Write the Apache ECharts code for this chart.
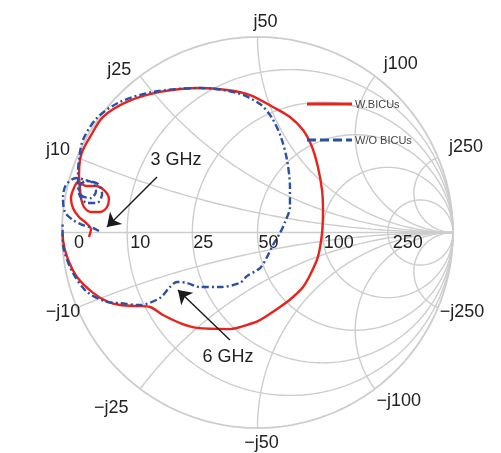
<!DOCTYPE html>
<html><head><meta charset="utf-8">
<script src="https://cdn.jsdelivr.net/npm/echarts@6/dist/echarts.min.js"></script>
<style>html,body{margin:0;padding:0;background:#fff}#c{width:501px;height:453px}</style>
</head><body><div id="c"></div>
<script>
// ---- chart values ----
const Z0 = 50;
const resistanceTicks = [0, 10, 25, 50, 100, 250];          // ohms
const reactanceTicks = [10, 25, 50, 100, 250];              // ohms
const resistanceLabels = ['0', '10', '25', '50', '100', '250'];
const posReactanceLabels = ['j10', 'j25', 'j50', 'j100', 'j250'];
const negReactanceLabels = ['\u2212j10', '\u2212j25', '\u2212j50', '\u2212j100', '\u2212j250'];
const seriesNames = ['W.BICUs', 'W/O BICUs'];

const withBicusRe = [-0.862,-0.852,-0.877,-0.913,-0.944,-0.954,-0.939,-0.918,-0.877,-0.831,-0.785,-0.760,-0.770,-0.806,-0.852,-0.887,-0.903,-0.908,-0.913,-0.908,-0.893,-0.857,-0.790,-0.668,-0.499,-0.294,-0.156,-0.038,0.079,0.166,0.233,0.279,0.309,0.330,0.335,0.330,0.309,0.274,0.233,0.176,0.115,0.013,-0.023,-0.141,-0.309,-0.396,-0.483,-0.550,-0.616,-0.703,-0.765,-0.841,-0.923,-0.974,-0.995,-0.996];
const withBicusIm = [-0.023,0.018,0.049,0.079,0.125,0.176,0.228,0.258,0.238,0.238,0.217,0.171,0.130,0.105,0.105,0.130,0.176,0.228,0.294,0.371,0.422,0.488,0.591,0.668,0.719,0.739,0.729,0.703,0.642,0.591,0.524,0.437,0.335,0.217,0.115,-0.003,-0.125,-0.207,-0.279,-0.335,-0.381,-0.448,-0.463,-0.494,-0.488,-0.463,-0.422,-0.381,-0.376,-0.371,-0.355,-0.309,-0.228,-0.125,-0.038,-0.005];
const withoutBicusRe = [-0.811,-0.841,-0.893,-0.944,-0.985,-0.995,-0.980,-0.928,-0.882,-0.841,-0.826,-0.852,-0.898,-0.913,-0.877,-0.816,-0.795,-0.821,-0.872,-0.908,-0.918,-0.918,-0.913,-0.893,-0.821,-0.703,-0.535,-0.294,-0.105,0.013,0.074,0.120,0.151,0.166,0.166,0.141,0.115,0.079,0.049,0.013,-0.054,-0.090,-0.192,-0.294,-0.361,-0.412,-0.448,-0.499,-0.601,-0.703,-0.770,-0.872,-0.944,-0.990,-0.997,-0.997];
const withoutBicusIm = [0.008,0.023,0.038,0.064,0.105,0.176,0.243,0.279,0.269,0.253,0.212,0.176,0.187,0.228,0.263,0.248,0.197,0.151,0.151,0.187,0.243,0.309,0.371,0.473,0.586,0.668,0.719,0.739,0.714,0.657,0.586,0.488,0.371,0.233,0.130,0.054,-0.003,-0.064,-0.125,-0.182,-0.223,-0.258,-0.279,-0.279,-0.258,-0.253,-0.279,-0.335,-0.371,-0.361,-0.355,-0.304,-0.207,-0.090,0.003,0.054];

// frequency annotations: text, arrow tail and arrow tip (reflection coefficient plane)
const markerLabels = ['3 GHz', '6 GHz'];
const markerTail = [[-0.514, 0.284], [-0.141, -0.550]];
const markerTip = [[-0.770, 0.028], [-0.407, -0.294]];
const markerText = [[-0.417, 0.371], [-0.151, -0.637]];

// ---- styling / layout (not data) ----
const GRID_COLOR = '#cdcdcd';
const RED = '#e8231d';
const BLUE = '#2b4ea6';
const FONT = 'Liberation Sans, Arial, Helvetica, sans-serif';
const resLabelDx = [12, 3, 1, 1, 1, 5];
const posLabelOff = [[-19,-7],[-21,-6],[8,-15],[26,-12],[28,-10]];
const negLabelOff = [[-14,4],[-29,19],[4,15],[24,12],[24,4]];
const LEGEND = { x: 307, y: 104, gap: 36, len: 45 };

function gammaOf(r, x) {
  const den = (r + 1) * (r + 1) + x * x;
  return [(r * r + x * x - 1) / den, 2 * x / den];
}
function gridLine(points, width) {
  return { type: 'line', data: points, showSymbol: false, symbol: 'none', silent: true, z: 1,
    lineStyle: { color: GRID_COLOR, width: width || 1.4 }, animation: false };
}
const gridSeries = [];
resistanceTicks.forEach(R => {
  const r = R / Z0, c = r / (1 + r), rad = 1 / (1 + r), pts = [];
  for (let i = 0; i <= 360; i++) { const t = i * Math.PI / 180; pts.push([c + rad * Math.cos(t), rad * Math.sin(t)]); }
  gridSeries.push(gridLine(pts, R === 0 ? 1.8 : 1.4));
});
reactanceTicks.forEach(X => {
  [1, -1].forEach(s => {
    const x = s * X / Z0, pts = [gammaOf(0, x)];
    for (let k = -3; k <= 4.001; k += 0.02) pts.push(gammaOf(Math.pow(10, k), x));
    pts.push([1, 0]);
    gridSeries.push(gridLine(pts));
  });
});
gridSeries.push(gridLine([[-1, 0], [1, 0]]));

function zip(a, b) { return a.map((v, i) => [v, b[i]]); }

const lineStyles = [
  { color: RED, width: 2.4 },
  { color: BLUE, width: 2.4, type: [7, 3, 2, 3] }
];

const chart = echarts.init(document.getElementById('c'), null, { renderer: 'canvas' });
chart.setOption({
  animation: false,
  backgroundColor: '#fff',
  grid: { left: 62, top: 37, width: 391, height: 391 },
  xAxis: { type: 'value', min: -1, max: 1, show: false },
  yAxis: { type: 'value', min: -1, max: 1, show: false },
  series: gridSeries.concat([
    { name: seriesNames[0], type: 'line', data: zip(withBicusRe, withBicusIm), symbol: 'none', smooth: 0.3, z: 5,
      lineStyle: lineStyles[0] },
    { name: seriesNames[1], type: 'line', data: zip(withoutBicusRe, withoutBicusIm), symbol: 'none', smooth: 0.3, z: 6,
      lineStyle: lineStyles[1] },
    { type: 'lines', coordinateSystem: 'cartesian2d', z: 8, silent: true,
      symbol: ['none', 'arrow'], symbolSize: 13,
      lineStyle: { color: '#1a1a1a', width: 1.4, opacity: 1 },
      data: markerTail.map((t, i) => ({ coords: [t, markerTip[i]] })) }
  ])
});

const g = [];
function px(p) { return chart.convertToPixel({ gridIndex: 0 }, p); }
function addText(text, p, align, font, fill) {
  g.push({ type: 'text', x: p[0], y: p[1], z: 20,
    style: { text: text, font: font || ('18px ' + FONT), fill: fill || '#222', align: align || 'center', verticalAlign: 'middle' } });
}
resistanceTicks.forEach((R, i) => {
  const r = R / Z0, a = px([(r - 1) / (r + 1), 0]);
  addText(resistanceLabels[i], [a[0] + resLabelDx[i], a[1] + 11], 'left');
});
reactanceTicks.forEach((X, i) => {
  const x = X / Z0;
  const a = px(gammaOf(0, x)), b = px(gammaOf(0, -x));
  addText(posReactanceLabels[i], [a[0] + posLabelOff[i][0], a[1] + posLabelOff[i][1]]);
  addText(negReactanceLabels[i], [b[0] + negLabelOff[i][0], b[1] + negLabelOff[i][1]]);
});
markerLabels.forEach((t, i) => addText(t, px(markerText[i])));
// legend
seriesNames.forEach((name, i) => {
  const y = LEGEND.y + i * LEGEND.gap;
  g.push({ type: 'line', z: 20, shape: { x1: LEGEND.x, y1: y, x2: LEGEND.x + LEGEND.len, y2: y },
    style: { stroke: lineStyles[i].color, lineWidth: 3, lineDash: i === 1 ? [9, 4] : null } });
  addText(name, [LEGEND.x + LEGEND.len + 3, y + 0.5], 'left', '11px ' + FONT, '#444');
});
chart.setOption({ graphic: g });
</script></body></html>
